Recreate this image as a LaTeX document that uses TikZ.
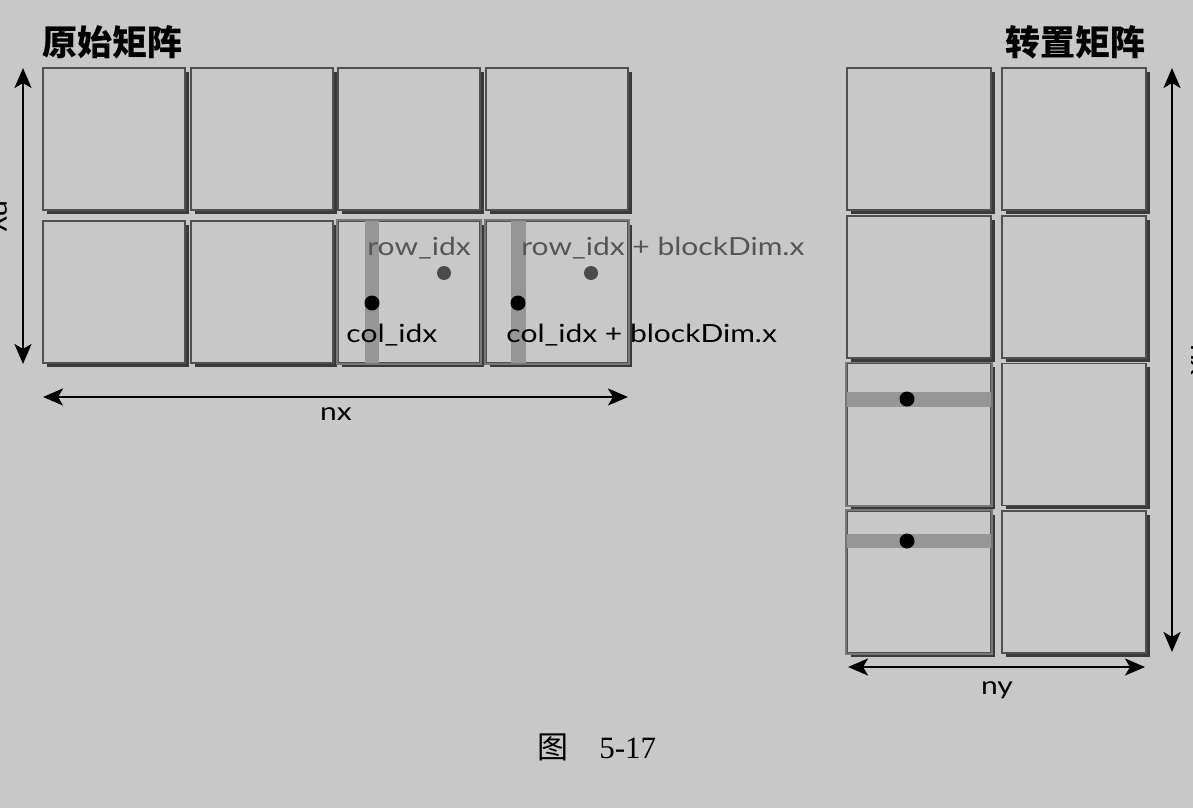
\documentclass[tikz,border=0pt]{standalone}
\usepackage{fontspec}
\setmainfont{Liberation Serif}
\setsansfont[FakeStretch=1.2]{Lato}
\newfontfamily\cjk{Noto Sans CJK SC}
\usetikzlibrary{arrows.meta, shadows}
\definecolor{bgcol}{RGB}{200,200,200}
\definecolor{edgecol}{RGB}{80,80,80}
\definecolor{litedge}{RGB}{120,120,120}
\definecolor{shadowcol}{RGB}{58,58,58}
\definecolor{barcol}{RGB}{150,150,150}
\definecolor{dotgray}{RGB}{75,75,75}
\definecolor{txtgray}{RGB}{85,85,85}

\begin{document}
\begin{tikzpicture}[x=0.5pt, y=-0.5pt,
  cell/.style={draw=edgecol, line width=0.9pt, fill=bgcol, minimum width=71pt, minimum height=71pt, inner sep=0pt,
    drop shadow={shadow xshift=2pt, shadow yshift=-2pt, fill=shadowcol, opacity=1}},
  lbl/.style={font=\sffamily\fontsize{12.5}{15}\selectfont, inner sep=0pt, anchor=base west},
  title/.style={font=\cjk\bfseries\fontsize{17.5}{20}\selectfont, inner sep=0pt},
  dot/.style={circle, fill=black, minimum size=7.5pt, inner sep=0pt},
  dimarrow/.style={{Stealth[length=10pt,width=8.5pt,inset=2.5pt]}-{Stealth[length=10pt,width=8.5pt,inset=2.5pt]}, line width=1.3pt}]
\clip (0,0) rectangle (1193,808);
\fill[bgcol] (0,0) rectangle (1193,808); %background

%original matrix
\node[title, anchor=base west] (srcT) at (42,56) {原始矩阵};
\foreach \i in {0,...,3}
  \foreach \j in {0,1}
    \node[cell] (src-\i-\j) at (114+147.6*\i, 139+153*\j) {};
\fill[barcol] (365,221) rectangle (379,363);
\fill[barcol] (511,221) rectangle (526,363);
\draw[litedge, line width=0.9pt] (src-2-1.south west) rectangle (src-2-1.north east);
\draw[litedge, line width=0.9pt] (src-3-1.south west) rectangle (src-3-1.north east);
\node[dot, fill=dotgray, minimum size=7pt] (rA) at (444,273) {};
\node[dot, fill=dotgray, minimum size=7pt] (rB) at (591,273) {};
\node[dot] (cA) at (372,303) {};
\node[dot] (cB) at (518,303) {};
\node[lbl, text=txtgray] (rowA) at (367,255) {row\_idx};
\node[lbl, text=txtgray] (rowB) at (521,255) {row\_idx + blockDim.x};
\node[lbl] (colA) at (346,342) {col\_idx};
\node[lbl] (colB) at (506,342) {col\_idx + blockDim.x};

\coordinate (nxL) at (43,397);
\coordinate (nxR) at (628,397);
\draw[dimarrow] (nxL) -- (nxR);
\node[lbl, anchor=base] (nx) at (336,420) {nx};
\coordinate (nyT) at (23,68);
\coordinate (nyB) at (23,364);
\draw[dimarrow] (nyT) -- (nyB);
\node[lbl, anchor=base, rotate=-90] (ny) at (-5,216) {ny};

%transposed matrix
\node[title, anchor=base east] (dstT) at (1146,56) {转置矩阵};
\foreach \i in {0,1}
  \foreach \j in {0,...,3}
    \node[cell, minimum width=72pt] (dst-\i-\j) at (919+155*\i, 139+147.7*\j) {};
\fill[barcol] (847,392) rectangle (991,407);
\fill[barcol] (847,534) rectangle (991,548);
\draw[litedge, line width=0.9pt] (dst-0-2.south west) rectangle (dst-0-2.north east);
\draw[litedge, line width=0.9pt] (dst-0-3.south west) rectangle (dst-0-3.north east);
\node[dot] (tA) at (907,399) {};
\node[dot] (tB) at (907,541) {};

\coordinate (tyL) at (848,667);
\coordinate (tyR) at (1145,667);
\draw[dimarrow] (tyL) -- (tyR);
\node[lbl, anchor=base] (ty) at (997,694) {ny};
\coordinate (txT) at (1172,68);
\coordinate (txB) at (1172,652);
\draw[dimarrow] (txT) -- (txB);
\node[lbl, anchor=base, rotate=-90] (tx) at (1191,360) {nx};

%caption
\node[inner sep=0pt, anchor=base west, font=\fontsize{15.5}{18}\selectfont] (cap) at (537,758) {{\cjk 图}\quad 5-17};
\end{tikzpicture}
\end{document}
